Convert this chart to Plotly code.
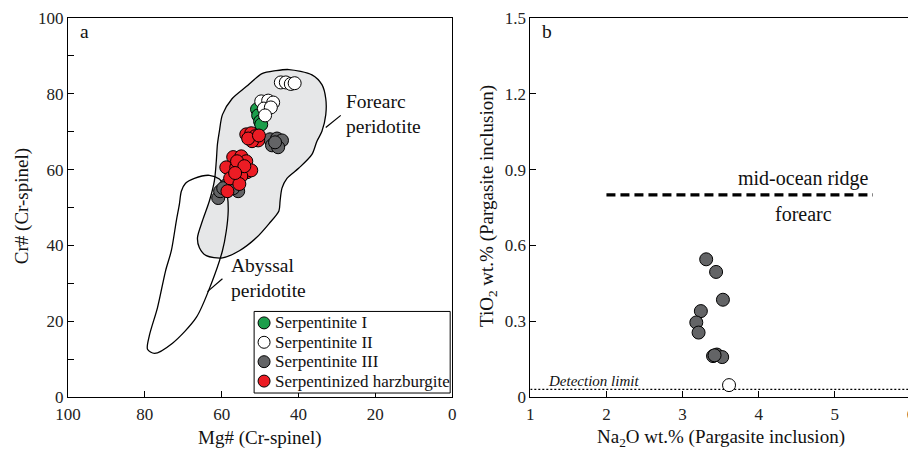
import plotly.graph_objects as go

# ---------------- Panel a data (Mg#, Cr# of Cr-spinel) ----------------
serp1_mg = [50.8, 50.5, 50.0, 49.7]
serp1_cr = [75.9, 74.3, 72.7, 71.9]

serp2_mg = [44.6, 43.3, 42.0, 41.0, 49.7, 47.9, 46.6, 49.0, 47.2, 48.7]
serp2_cr = [83.0, 83.0, 82.6, 82.8, 78.0, 78.2, 77.7, 76.1, 76.4, 74.3]

serp3_mg = [47.4, 45.6, 44.3, 46.9, 45.3, 46.1, 60.9, 60.4, 58.8, 55.7, 57.0, 59.6, 56.2]
serp3_cr = [68.0, 68.2, 67.7, 66.4, 65.9, 67.2, 52.5, 54.3, 55.9, 54.3, 55.1, 55.1, 63.0]

harz_mg = [53.6, 52.3, 51.3, 50.5, 52.1, 53.1, 50.3,
           57.0, 54.9, 53.6, 58.8, 56.2, 53.4, 52.3, 57.8, 54.9, 55.4, 58.5, 56.0, 54.1, 56.5]
harz_cr = [69.3, 69.6, 68.8, 67.7, 67.5, 68.2, 69.0,
           63.3, 63.5, 62.2, 60.6, 60.6, 59.3, 59.8, 57.7, 58.3, 56.2, 54.3, 62.2, 60.9, 59.1]

legend_labels = ["Serpentinite I", "Serpentinite II", "Serpentinite III", "Serpentinized harzburgite"]

# Field boundaries
forearc_mg = [45.9, 42.5, 36.5, 33.9, 32.9, 32.9, 33.9, 35.2, 36.5, 39.9, 43.0, 44.3, 44.8, 45.1,
              47.7, 51.0, 55.4, 59.8, 64.0, 65.8, 66.3, 65.0, 63.2, 61.9, 61.4, 61.1, 60.6, 59.8,
              57.3, 53.6, 49.5, 45.9]
forearc_cr = [86.1, 86.4, 85.0, 82.4, 78.7, 74.5, 70.1, 67.5, 64.0, 60.4, 57.7, 55.1, 51.7, 49.1,
              45.7, 42.0, 38.6, 36.7, 37.3, 39.4, 42.0, 46.5, 51.7, 57.0, 62.2, 66.7, 70.1, 74.5,
              78.7, 81.9, 85.3, 86.1]

abyssal_mg = [58.5, 58.3, 58.8, 59.8, 62.7, 66.6, 72.8, 77.5, 79.3, 78.8, 76.7, 74.6, 73.1, 71.8,
              71.0, 70.5, 69.4, 67.1, 63.2, 60.6, 59.1, 58.5]
abyssal_cr = [53.0, 49.1, 43.8, 38.6, 29.9, 21.0, 14.2, 11.5, 12.6, 16.3, 23.6, 33.3, 38.6, 46.5,
              50.9, 54.3, 56.4, 57.7, 58.5, 57.5, 55.4, 53.0]

forearc_leader_mg = [32.9, 29.0]
forearc_leader_cr = [71.1, 74.3]
abyssal_leader_mg = [63.7, 59.8]
abyssal_leader_cr = [27.8, 31.2]

# ---------------- Panel b data (pargasite inclusions) ----------------
b_serp3_na2o = [3.31, 3.44, 3.53, 3.24, 3.18, 3.21, 3.40, 3.45, 3.52, 3.42]
b_serp3_tio2 = [0.545, 0.495, 0.385, 0.34, 0.295, 0.255, 0.162, 0.168, 0.158, 0.165]
b_serp2_na2o = [3.61]
b_serp2_tio2 = [0.047]

mor_line_x = [2.0, 5.5]
mor_line_y = [0.80, 0.80]
detect_x = [1.0, 6.0]
detect_y = [0.03, 0.03]

a_xticks = [100, 80, 60, 40, 20, 0]
a_yticks = [0, 20, 40, 60, 80, 100]
b_xticks = [1, 2, 3, 4, 5, 6]
b_yticks = [0, 0.3, 0.6, 0.9, 1.2, 1.5]
b_yticktext = ["0", "0.3", "0.6", "0.9", "1.2", "1.5"]

FONT = "Liberation Serif, Times New Roman, serif"
GREEN = "#1b9e4b"
GREY = "#636466"
RED = "#ec1c24"
COLORS = [GREEN, "white", GREY, RED]
MS = 13

# Page body has an 8px margin; compensate so the plot lands where intended.
OFF = 8
W, H = 916 - OFF, 453 - OFF
ML, MT = 68 - OFF, 16 - OFF
MR = W - (915 - OFF)
MB = H - (397 - OFF)
PW = W - ML - MR
PH = H - MT - MB
# intended screen pixel -> paper coordinates
px = lambda sx: (sx - 68) / PW
py = lambda sy: (397 - sy) / PH

fig = go.Figure()

fig.add_trace(go.Scatter(x=forearc_mg, y=forearc_cr, mode="lines", fill="toself",
                         fillcolor="#e6e7e8", line=dict(color="black", width=1.3, shape="spline", smoothing=0.8),
                         showlegend=False, hoverinfo="skip", xaxis="x", yaxis="y"))
fig.add_trace(go.Scatter(x=abyssal_mg, y=abyssal_cr, mode="lines",
                         line=dict(color="black", width=1.3, shape="spline", smoothing=0.8),
                         showlegend=False, hoverinfo="skip", xaxis="x", yaxis="y"))
fig.add_trace(go.Scatter(x=forearc_leader_mg, y=forearc_leader_cr, mode="lines",
                         line=dict(color="black", width=1.2), showlegend=False, hoverinfo="skip"))
fig.add_trace(go.Scatter(x=abyssal_leader_mg, y=abyssal_leader_cr, mode="lines",
                         line=dict(color="black", width=1.2), showlegend=False, hoverinfo="skip"))

mk = lambda c: dict(size=MS, color=c, line=dict(color="black", width=1))
for xs, ys, name, c in [(serp1_mg, serp1_cr, legend_labels[0], GREEN),
                        (serp2_mg, serp2_cr, legend_labels[1], "white"),
                        (serp3_mg, serp3_cr, legend_labels[2], GREY),
                        (harz_mg, harz_cr, legend_labels[3], RED)]:
    fig.add_trace(go.Scatter(x=xs, y=ys, mode="markers", name=name, marker=mk(c), showlegend=False))

fig.add_trace(go.Scatter(x=detect_x, y=detect_y, mode="lines", line=dict(color="black", width=1.3, dash="2px,2px"),
                         showlegend=False, hoverinfo="skip", xaxis="x2", yaxis="y2"))
fig.add_trace(go.Scatter(x=mor_line_x, y=mor_line_y, mode="lines", line=dict(color="black", width=3.2, dash="9px,5px"),
                         showlegend=False, hoverinfo="skip", xaxis="x2", yaxis="y2"))
fig.add_trace(go.Scatter(x=b_serp3_na2o, y=b_serp3_tio2, mode="markers", marker=mk(GREY), name=legend_labels[2],
                         showlegend=False, xaxis="x2", yaxis="y2"))
fig.add_trace(go.Scatter(x=b_serp2_na2o, y=b_serp2_tio2, mode="markers", marker=mk("white"), name=legend_labels[1],
                         showlegend=False, xaxis="x2", yaxis="y2"))

axis_common = dict(showline=True, linecolor="black", linewidth=1, mirror=True, ticks="inside",
                   ticklen=6, tickcolor="black", tickwidth=1, showgrid=False, zeroline=False,
                   ticklabeloverflow="allow",
                   tickfont=dict(family=FONT, size=17, color="#222"))

fig.update_layout(
    width=W, height=H,
    margin=dict(l=ML, r=MR, t=MT, b=MB),
    paper_bgcolor="white", plot_bgcolor="white",
    xaxis=dict(domain=[0, px(454)], range=[100, 0], tickvals=a_xticks, anchor="y", ticklabelstandoff=2, **axis_common),
    yaxis=dict(domain=[0, 1], range=[0, 100], tickvals=a_yticks, anchor="x",
               minor=dict(dtick=10, ticks="inside", ticklen=6, tickcolor="black"), **axis_common),
    xaxis2=dict(domain=[px(532.5), 1], range=[1, 6], tickvals=b_xticks, anchor="y2", ticklabelstandoff=2, **axis_common),
    yaxis2=dict(domain=[0, 1], range=[0, 1.5], tickvals=b_yticks, ticktext=b_yticktext, anchor="x2", **axis_common),
    showlegend=False,
)

# Manual legend box (panel a)
shapes = [dict(type="rect", xref="paper", yref="paper", x0=px(255), x1=px(452), y0=py(393), y1=py(311),
               fillcolor="white", line=dict(color="black", width=1), layer="above")]
ann = []
rows = [322.5, 342, 361.5, 381]
for lab, c, ry in zip(legend_labels, COLORS, rows):
    shapes.append(dict(type="circle", xref="paper", yref="paper", xsizemode="pixel", ysizemode="pixel",
                       xanchor=px(265), yanchor=py(ry), x0=-6, x1=6, y0=-6, y1=6,
                       fillcolor=c, line=dict(color="black", width=1), layer="above"))
    ann.append(dict(text=lab, x=px(274), y=py(ry), xref="paper", yref="paper", xanchor="left", yanchor="middle",
                    showarrow=False, font=dict(family=FONT, size=17, color="#111")))

tf = dict(family=FONT, size=19.5, color="#111")
tf2 = dict(family=FONT, size=20, color="#111")
tt = dict(family=FONT, size=19, color="#111")
ann += [
    dict(text="a", x=0.025, y=0.965, xref="x domain", yref="y domain", xanchor="left", yanchor="middle", showarrow=False, font=tf),
    dict(text="b", x=0.025, y=0.965, xref="x2 domain", yref="y2 domain", xanchor="left", yanchor="middle", showarrow=False, font=tf),
    dict(text="Forearc<br>peridotite", x=28.2, y=74.8, xref="x", yref="y", xanchor="left", yanchor="middle", align="left", showarrow=False, font=tf),
    dict(text="Abyssal<br>peridotite", x=58.0, y=31.4, xref="x", yref="y", xanchor="left", yanchor="middle", align="left", showarrow=False, font=tf),
    dict(text="mid-ocean ridge", x=4.59, y=0.866, xref="x2", yref="y2", xanchor="center", yanchor="middle", showarrow=False, font=tf2),
    dict(text="forearc", x=4.59, y=0.724, xref="x2", yref="y2", xanchor="center", yanchor="middle", showarrow=False, font=tf2),
    dict(text="<i>Detection limit</i>", x=1.2, y=0.063, xref="x2", yref="y2", xanchor="left", yanchor="middle", showarrow=False,
         font=dict(family=FONT, size=15, color="#111")),
    dict(text="Mg# (Cr-spinel)", x=0.5, y=py(438), xref="x domain", yref="paper", xanchor="center", yanchor="middle", showarrow=False, font=tt),
    dict(text="Na<sub>2</sub>O wt.% (Pargasite inclusion)", x=0.5, y=py(438), xref="x2 domain", yref="paper", xanchor="center", yanchor="middle", showarrow=False, font=tt),
    dict(text="Cr# (Cr-spinel)", x=px(22), y=0.504, xref="paper", yref="paper", xanchor="center", yanchor="middle", textangle=-90, showarrow=False, font=tt),
    dict(text="TiO<sub>2</sub> wt.% (Pargasite inclusion)", x=px(490), y=0.504, xref="paper", yref="paper", xanchor="center", yanchor="middle", textangle=-90, showarrow=False, font=tt),
]
fig.update_layout(annotations=ann, shapes=shapes)

fig.write_html("out.html")
